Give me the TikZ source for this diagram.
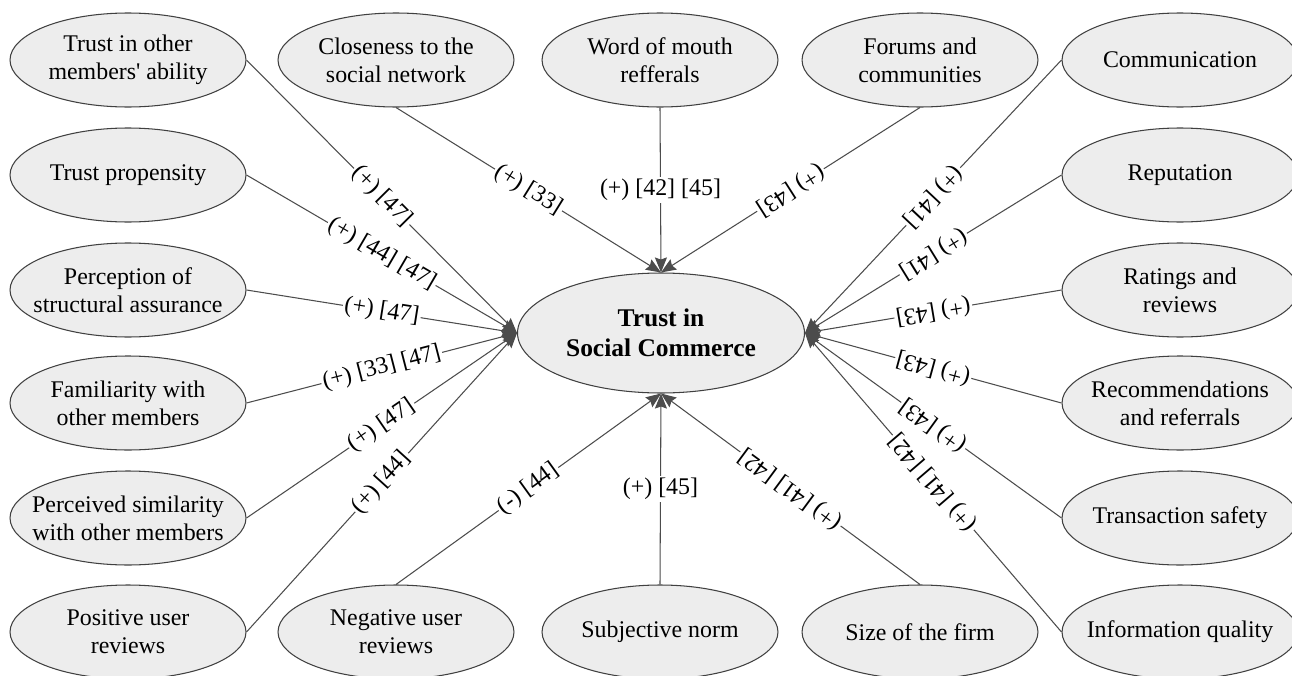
\documentclass[tikz,border=0pt]{standalone}
\usepackage{fontspec}
\setmainfont{Liberation Serif}
\usetikzlibrary{shapes.geometric,arrows.meta}
\begin{document}
\begin{tikzpicture}[x=0.02cm,y=-0.02cm,
    factor/.style={ellipse,draw=black!75,fill=black!7,line width=0.6pt,minimum width=4.72cm,minimum height=1.88cm,inner xsep=-2cm,inner ysep=-1cm,align=center,font=\fontsize{13.6pt}{16pt}\selectfont},
    hub/.style={factor,minimum width=5.74cm,minimum height=2.4cm,font=\fontsize{14.5pt}{17pt}\selectfont\bfseries},
    link/.style={draw=black!70,line width=0.6pt,-{Stealth[length=0.3cm,width=0.24cm,inset=0.04cm]}},
    lbl/.style={fill=white,inner sep=1pt,font=\fontsize{13.6pt}{15pt}\selectfont,sloped,allow upside down,pos=0.5},
    vlbl/.style={fill=white,inner sep=1pt,font=\fontsize{13.6pt}{15pt}\selectfont,pos=0.5}]
      \useasboundingbox (0,0) rectangle (1292,676);
      \node[hub] (tsc) at (661,333) {Trust in\\Social Commerce};
      \node[factor] (tima) at (128,60) {Trust in other\\members\textquotesingle{} ability};
      \node[factor] (tprop) at (128,175) {Trust propensity};
      \node[factor] (psa) at (128,290) {Perception of\\structural assurance};
      \node[factor] (fam) at (128,403) {Familiarity with\\other members};
      \node[factor] (psim) at (128,518) {Perceived similarity\\with other members};
      \node[factor] (posr) at (128,632) {Positive user\\reviews};
      \node[factor] (close) at (396,60) {Closeness to the\\social network};
      \node[factor] (wom) at (660,60) {Word of mouth\\refferals};
      \node[factor] (forum) at (920,60) {Forums and\\communities};
      \node[factor] (comm) at (1180,60) {Communication};
      \node[factor] (rep) at (1180,175) {Reputation};
      \node[factor] (rate) at (1180,290) {Ratings and\\reviews};
      \node[factor] (recom) at (1180,403) {Recommendations\\and referrals};
      \node[factor] (safe) at (1180,518) {Transaction safety};
      \node[factor] (infoq) at (1180,632) {Information quality};
      \node[factor] (negr) at (396,632) {Negative user\\reviews};
      \node[factor] (subj) at (660,632) {Subjective norm};
      \node[factor] (size) at (920,632) {Size of the firm};
      \draw[link] (tima.east) -- node[lbl] {(+) [47]} (tsc.west);
      \draw[link] (tprop.east) -- node[lbl] {(+) [44] [47]} (tsc.west);
      \draw[link] (psa.east) -- node[lbl] {(+) [47]} (tsc.west);
      \draw[link] (fam.east) -- node[lbl] {(+) [33] [47]} (tsc.west);
      \draw[link] (psim.east) -- node[lbl] {(+) [47]} (tsc.west);
      \draw[link] (posr.east) -- node[lbl] {(+) [44]} (tsc.west);
      \draw[link] (close.south) -- node[lbl] {(+) [33]} (tsc.north);
      \draw[link] (wom.south) -- node[vlbl] {(+) [42] [45]} (tsc.north);
      \draw[link] (forum.south) -- node[lbl] {(+) [43]} (tsc.north);
      \draw[link] (comm.west) -- node[lbl] {(+) [41]} (tsc.east);
      \draw[link] (rep.west) -- node[lbl] {(+) [41]} (tsc.east);
      \draw[link] (rate.west) -- node[lbl] {(+) [43]} (tsc.east);
      \draw[link] (recom.west) -- node[lbl] {(+) [43]} (tsc.east);
      \draw[link] (safe.west) -- node[lbl] {(+) [43]} (tsc.east);
      \draw[link] (infoq.west) -- node[lbl] {(+) [41] [42]} (tsc.east);
      \draw[link] (negr.north) -- node[lbl] {(-) [44]} (tsc.south);
      \draw[link] (subj.north) -- node[vlbl] {(+) [45]} (tsc.south);
      \draw[link] (size.north) -- node[lbl] {(+) [41] [42]} (tsc.south);
    \end{tikzpicture}
\end{document}
